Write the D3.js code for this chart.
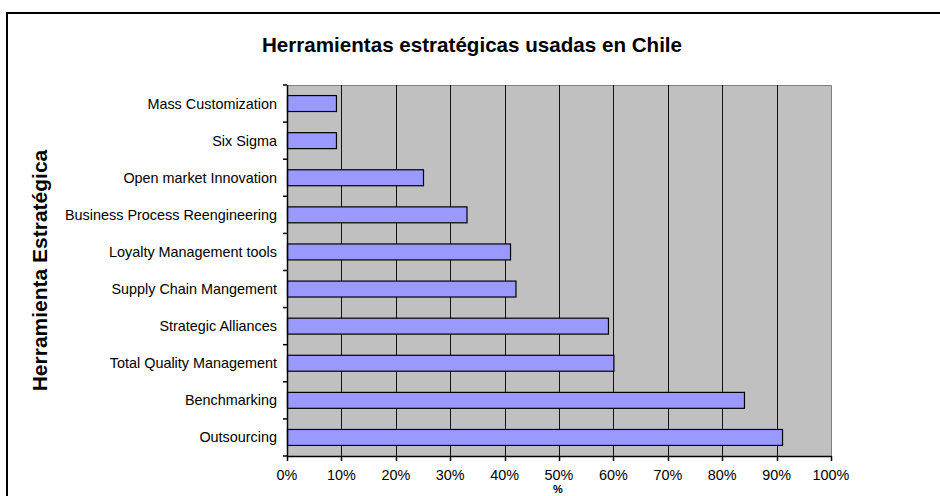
<!DOCTYPE html>
<html><head><meta charset="utf-8">
<script src="https://cdn.jsdelivr.net/npm/d3@7"></script>
<style>body{margin:0;background:#fff}svg{display:block}text{font-family:"Liberation Sans",Arial,sans-serif}</style>
</head><body>
<svg id="c" width="940" height="496"></svg>
<script>
const categories = ["Mass Customization","Six Sigma","Open market Innovation","Business Process Reengineering","Loyalty Management tools","Supply Chain Mangement","Strategic Alliances","Total Quality Management","Benchmarking","Outsourcing"];
const values = [9, 9, 25, 33, 41, 42, 59, 60, 84, 91];
const xTicks = [0,10,20,30,40,50,60,70,80,90,100];
const title = "Herramientas estratégicas usadas en Chile";
const yTitle = "Herramienta Estratégica";
const xTitle = "%";

const svg = d3.select("#c");
const m = {left:287, right:831, top:85, bottom:456};
// outer border
svg.append("path").attr("d","M7,500 L7,13 L945,13").attr("fill","none").attr("stroke","#000").attr("stroke-width",2);

const x = d3.scaleLinear().domain([0,100]).range([m.left,m.right]);
const y = d3.scaleBand().domain(categories).range([m.top,m.bottom]).paddingInner(0.57).paddingOuter(0.285);

svg.append("rect").attr("x",m.left).attr("y",m.top).attr("width",m.right-m.left).attr("height",m.bottom-m.top).attr("fill","#c0c0c0");
// plot border top/right
svg.append("path").attr("d",`M${m.left},${m.top+0.5} L${m.right+0.5},${m.top+0.5} L${m.right+0.5},${m.bottom}`).attr("fill","none").attr("stroke","#808080").attr("stroke-width",1);
// gridlines
svg.append("g").selectAll("line").data(xTicks.filter(t=>t>0&&t<100)).join("line")
  .attr("x1",d=>Math.round(x(d))+0.5).attr("x2",d=>Math.round(x(d))+0.5)
  .attr("y1",m.top).attr("y2",m.bottom).attr("stroke","#111").attr("stroke-width",1);

// bars
svg.append("g").selectAll("rect").data(categories).join("rect")
  .attr("x",m.left+0.5).attr("y",d=>y(d))
  .attr("width",(d,i)=>x(values[i])-m.left).attr("height",y.bandwidth())
  .attr("fill","#9999ff").attr("stroke","#000").attr("stroke-width",1.2);

// y axis
const band = (m.bottom-m.top)/categories.length;
const ya = svg.append("g");
ya.append("line").attr("x1",m.left+0.5).attr("x2",m.left+0.5).attr("y1",m.top).attr("y2",m.bottom).attr("stroke","#000").attr("stroke-width",1.5);
ya.selectAll("line.t").data(d3.range(categories.length+1)).join("line").attr("class","t")
  .attr("x1",m.left-4).attr("x2",m.left).attr("y1",d=>m.top+d*band).attr("y2",d=>m.top+d*band).attr("stroke","#000").attr("stroke-width",1.5);
ya.selectAll("text").data(categories).join("text")
  .attr("x",m.left-10).attr("y",d=>y(d)+y.bandwidth()/2).attr("dy","0.35em")
  .attr("text-anchor","end").attr("font-size",14.4).attr("fill","#000").text(d=>d);

// x axis
const xa = svg.append("g");
xa.append("line").attr("x1",m.left).attr("x2",m.right+1).attr("y1",m.bottom+0.5).attr("y2",m.bottom+0.5).attr("stroke","#000").attr("stroke-width",1.5);
xa.selectAll("line.t").data(xTicks).join("line").attr("class","t")
  .attr("x1",d=>Math.round(x(d))+0.5).attr("x2",d=>Math.round(x(d))+0.5).attr("y1",m.bottom).attr("y2",m.bottom+5).attr("stroke","#000").attr("stroke-width",1.5);
xa.selectAll("text").data(xTicks).join("text")
  .attr("x",d=>x(d)).attr("y",479.5).attr("text-anchor","middle")
  .attr("font-size",14.4).attr("fill","#000").text(d=>d+"%");

svg.append("text").attr("x",472).attr("y",45).attr("dy","0.35em").attr("text-anchor","middle")
  .attr("font-size",20.6).attr("font-weight","bold").text(title);
svg.append("text").attr("transform",`translate(40,${(m.top+m.bottom)/2}) rotate(-90)`).attr("dy","0.35em").attr("text-anchor","middle")
  .attr("font-size",21).attr("font-weight","bold").text(yTitle);
svg.append("text").attr("x",558).attr("y",493).attr("text-anchor","middle")
  .attr("font-size",11).attr("font-weight","bold").text(xTitle);
</script>
</body></html>
